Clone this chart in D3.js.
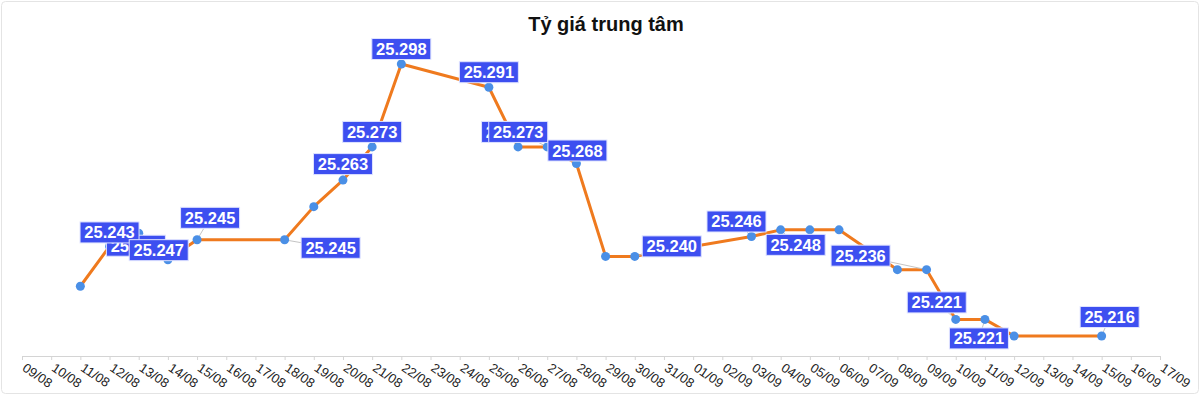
<!DOCTYPE html>
<html>
<head>
<meta charset="utf-8">
<script src="https://cdn.jsdelivr.net/npm/d3@7"></script>
<style>
  html, body { margin: 0; padding: 0; background: #fff; }
  svg { display: block; }
</style>
</head>
<body>
<svg id="chart" width="1200" height="397"></svg>
<script>
// ---- data ----
const title = "Tỷ giá trung tâm";
const tickLabels = ["09/08","10/08","11/08","12/08","13/08","14/08","15/08","16/08","17/08","18/08",
  "19/08","20/08","21/08","22/08","23/08","24/08","25/08","26/08","27/08","28/08","29/08","30/08","31/08",
  "01/09","02/09","03/09","04/09","05/09","06/09","07/09","08/09","09/09","10/09","11/09","12/09","13/09",
  "14/09","15/09","16/09","17/09"];
const dates = ["11/08","12/08","13/08","14/08","15/08","18/08","19/08","20/08","21/08","22/08",
  "25/08","26/08","27/08","28/08","29/08","30/08","03/09","04/09","05/09","06/09",
  "08/09","09/09","10/09","11/09","12/09","15/09"];
const values = [25.231,25.243,25.247,25.239,25.245,25.245,25.255,25.263,25.273,25.298,
  25.291,25.273,25.273,25.268,25.240,25.240,25.246,25.248,25.248,25.248,
  25.236,25.236,25.221,25.221,25.216,25.216];

// ---- label layout (offset of label box centre from its point; null = no label) ----
const labelOffsets = [null,[0,-14],[20,17],[-32,-14],[13,-22],[46,8],null,[0,-16],[0,-15],[0,-15],
  [0,-15],[-7,-15],[-29,-15],[1,-13],null,[37,-10],[-15,-15],[15,15],null,null,
  null,[-66,-14],[-19,-17],[-6,19],null,[8,-19]];
const labelsBehind = [3, 11];

// ---- drawing ----
const svg = d3.select("#chart");
const W = 1200, H = 397;

svg.append("rect").attr("x",1.5).attr("y",1.5).attr("width",W-3).attr("height",H-5)
  .attr("rx",4).attr("fill","#fff").attr("stroke","#e4e4e4");

svg.append("text").attr("x",606).attr("y",31).attr("text-anchor","middle")
  .attr("font-family","Liberation Sans, Arial, sans-serif").attr("font-weight","bold")
  .attr("font-size",20).attr("fill","#111").text(title);

const x = d3.scalePoint().domain(tickLabels).range([22,1160]);
const y = d3.scaleLinear().domain([25.216,25.298]).range([336,64]);

const axisY = 356;
const axis = d3.axisBottom(x).tickSizeOuter(0).tickSize(4).tickPadding(6);
const gx = svg.append("g").attr("transform",`translate(0,${axisY})`).call(axis);
gx.select(".domain").attr("stroke","#d4d4d4");
gx.selectAll(".tick line").attr("stroke","#d4d4d4");
gx.selectAll(".tick text")
  .attr("font-family","Liberation Sans, Arial, sans-serif")
  .attr("font-size",13).attr("fill","#222")
  .attr("text-anchor","start")
  .attr("y",0).attr("dy",0)
  .attr("transform","translate(-1,14) rotate(34)");

const data = dates.map((d,i)=>({date:d, value:values[i], off:labelOffsets[i], i}));

const line = d3.line().x(d=>x(d.date)).y(d=>y(d.value));
svg.append("path").datum(data).attr("d",line).attr("fill","none")
  .attr("stroke","#ef7a1e").attr("stroke-width",3).attr("stroke-linejoin","round");

const labeled = data.filter(d=>d.off);
// leader lines
svg.append("g").selectAll("line").data(labeled).join("line")
  .attr("x1",d=>x(d.date)).attr("y1",d=>y(d.value))
  .attr("x2",d=>x(d.date)+d.off[0]).attr("y2",d=>y(d.value)+d.off[1])
  .attr("stroke","#c4c4c4").attr("stroke-width",1);

svg.append("g").selectAll("circle").data(data).join("circle")
  .attr("cx",d=>x(d.date)).attr("cy",d=>y(d.value)).attr("r",4.5)
  .attr("fill","#4a8fe6");

const ordered = labeled.slice().sort((a,b)=>(labelsBehind.includes(b.i)?1:0)-(labelsBehind.includes(a.i)?1:0));
const fmt = v => v.toFixed(3);
const lg = svg.append("g").selectAll("g").data(ordered).join("g")
  .attr("transform",d=>`translate(${x(d.date)+d.off[0]},${y(d.value)+d.off[1]})`);
lg.append("rect").attr("x",-29.5).attr("y",-10.5).attr("width",59).attr("height",21)
  .attr("fill","#3d4ff0").attr("stroke","#dfe3ff").attr("stroke-width",1);
lg.append("text").attr("text-anchor","middle").attr("y",6)
  .attr("font-family","Liberation Sans, Arial, sans-serif").attr("font-weight","bold")
  .attr("font-size",16.5).attr("fill","#fff").text(d=>fmt(d.value));
</script>
</body>
</html>
